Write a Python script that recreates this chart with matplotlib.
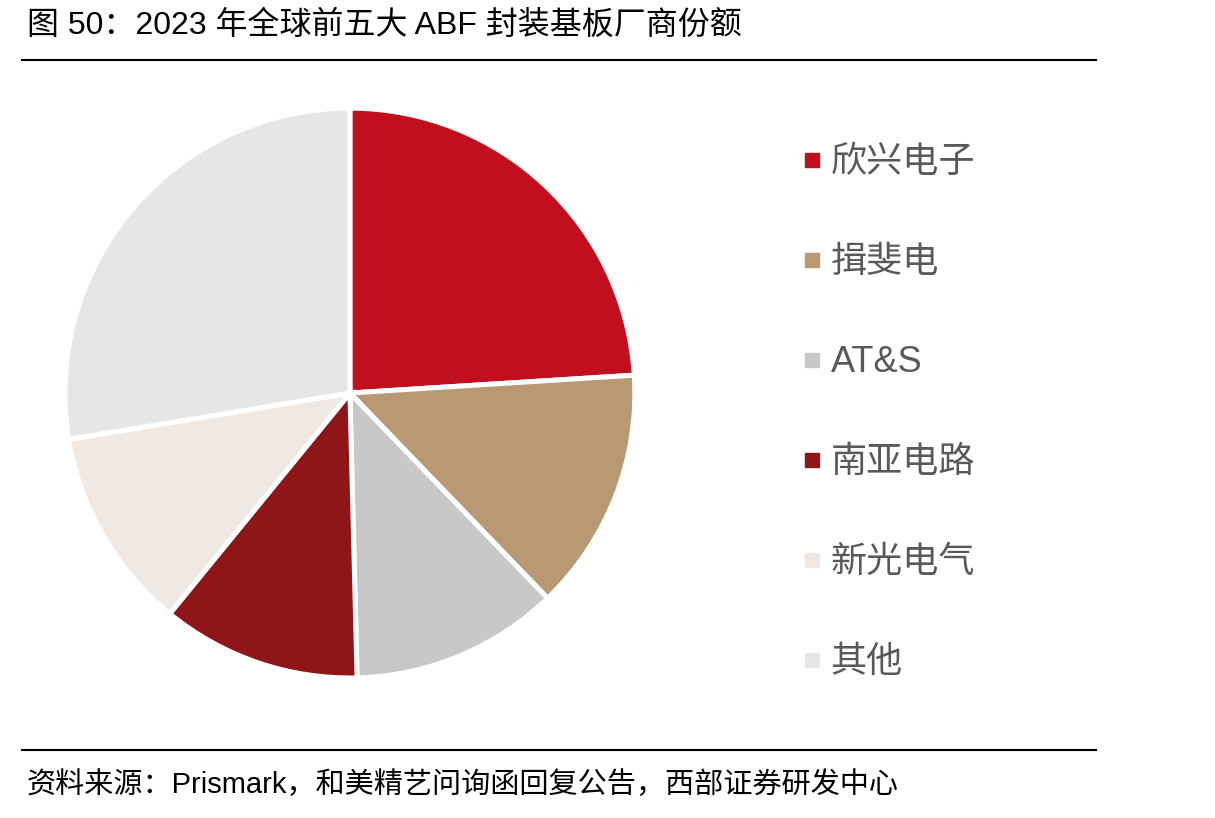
import matplotlib
matplotlib.use("Agg")
import matplotlib.pyplot as plt
from matplotlib.lines import Line2D

plt.rcParams['font.family'] = ['Liberation Sans', 'Noto Sans CJK SC', 'DejaVu Sans']

labels = ["欣兴电子", "揖斐电", "AT&S", "南亚电路", "新光电气", "其他"]
shares = [24.0, 13.8, 11.8, 11.3, 11.5, 27.6]
colors = ["#C20F1E", "#B99874", "#C8C8C8", "#8E1518", "#F0E8E3", "#E6E6E6"]

fig = plt.figure(figsize=(12.15, 8.18), dpi=100)

ax = fig.add_axes([0.0535, 0.171, 0.469, 0.697])
wedges, _ = ax.pie(shares, colors=colors, startangle=90, counterclock=False,
                   wedgeprops=dict(edgecolor="white", linewidth=3.6))
ax.set_xlim(-1.0, 1.0)
ax.set_ylim(-1.0, 1.0)
ax.set_aspect("equal")

# square legend markers
handles = [Line2D([], [], marker="s", linestyle="", markersize=10,
                  markerfacecolor=c, markeredgecolor=c) for c in colors]
leg = fig.legend(handles, labels, loc="upper left", bbox_to_anchor=(0.633, 0.862),
                 frameon=False, fontsize=26, labelspacing=1.8,
                 handlelength=0.6, handletextpad=0.2,
                 labelcolor="#595959")

# header / footer
fig.text(0.022, 0.968, "图 50：2023 年全球前五大 ABF 封装基板厂商份额",
         fontsize=23, va="center", ha="left", color="black")
fig.add_artist(Line2D([0.018, 0.902], [0.927, 0.927], color="black", lw=1.5))
fig.add_artist(Line2D([0.018, 0.902], [0.083, 0.083], color="black", lw=1.5))
fig.text(0.022, 0.04, "资料来源：Prismark，和美精艺问询函回复公告，西部证券研发中心",
         fontsize=21, va="center", ha="left", color="black")

fig.savefig("out.png", dpi=100)
